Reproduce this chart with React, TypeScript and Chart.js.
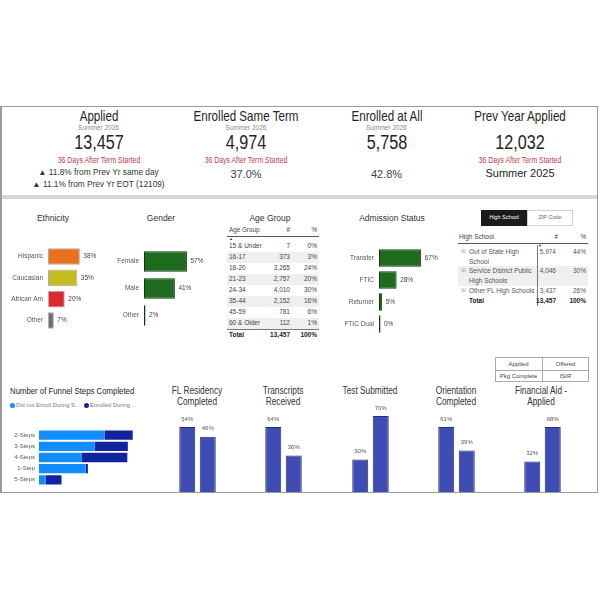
import React, { useEffect, useRef } from 'react';
import { Chart, registerables } from 'chart.js';
Chart.register(...registerables);

const SANS = "'Liberation Sans', Arial, sans-serif";
const NARROW = "'Liberation Sans', Arial, sans-serif";

// ---------- data ----------
const kpiTitles = ['Applied', 'Enrolled Same Term', 'Enrolled at All', 'Prev Year Applied'];
const kpiValues = ['13,457', '4,974', '5,758', '12,032'];
const kpiRates = ['', '37.0%', '42.8%', 'Summer 2025'];
const appliedChanges = ['▲ 11.8% from Prev Yr same day', '▲ 11.1% from Prev Yr EOT (12109)'];

const ethnicityLabels = ['Hispanic', 'Caucasian', 'African Am', 'Other'];
const ethnicityValues = [38, 35, 20, 7];
const ethnicityColors = ['#E8711C', '#C2BE1F', '#DB2A2F', '#6E6E6E'];

const genderLabels = ['Female', 'Male', 'Other'];
const genderValues = [57, 41, 2];

const admissionLabels = ['Transfer', 'FTIC', 'Returner', 'FTIC Dual'];
const admissionValues = [67, 28, 5, 0];

const ageGroups = ['15 & Under', '16-17', '18-20', '21-23', '24-34', '35-44', '45-59', '60 & Older'];
const ageCounts = [7, 373, 3265, 2757, 4010, 2152, 781, 112];
const agePcts = [0, 3, 24, 20, 30, 16, 6, 1];

const hsNames = [['Out of State High', 'School'], ['Service District Public', 'High Schools'], ['Other FL High Schools']];
const hsCounts = [5974, 4046, 3437];
const hsPcts = [44, 30, 26];

const funnelLabels = ['2-Steps', '3-Steps', '4-Steps', '1-Step', '5-Steps'];
const funnelNotEnrolled = [2560, 2180, 1660, 1820, 260];
const funnelEnrolled = [1100, 1290, 1790, 90, 620];

const stepCategories = ['Yes', 'No'];
const flResidency = [54, 46];
const transcripts = [64, 36];
const testSubmitted = [30, 70];
const orientation = [61, 39];
const financialAid = [32, 68];

// ---------- helpers ----------
const valueLabelPlugin = {
  id: 'valueLabels',
  afterDatasetsDraw(chart: any, _args: any, opts: any) {
    if (!opts || !opts.enabled) return;
    const ctx = chart.ctx;
    const meta = chart.getDatasetMeta(0);
    ctx.save();
    ctx.font = `${opts.size}px ${SANS}`;
    ctx.fillStyle = opts.color;
    meta.data.forEach((el: any, i: number) => {
      const txt = chart.data.datasets[0].data[i] + '%';
      if (opts.horizontal) {
        ctx.textAlign = 'left';
        ctx.textBaseline = 'middle';
        ctx.fillText(txt, el.x + opts.offset, el.y);
      } else {
        ctx.textAlign = 'center';
        ctx.textBaseline = 'bottom';
        ctx.fillText(txt, el.x, el.y - opts.offset);
      }
    });
    ctx.restore();
  },
};

function hbarConfig(labels: string[], values: number[], colors: any, border: string, max: number, axisWidth: number, barPct: number, minLen = 0) {
  return {
    type: 'bar',
    data: {
      labels,
      datasets: [{ data: values, backgroundColor: colors, borderColor: border, borderWidth: 1, borderSkipped: false, barPercentage: barPct, categoryPercentage: 1, minBarLength: minLen }],
    },
    options: {
      indexAxis: 'y',
      responsive: false,
      animation: false,
      layout: { padding: 0 },
      plugins: {
        legend: { display: false },
        tooltip: { enabled: false },
        valueLabels: { enabled: true, horizontal: true, offset: 3.5, size: 6.5, color: '#444' },
      },
      scales: {
        x: { display: false, min: 0, max },
        y: {
          grid: { display: false, drawTicks: false },
          border: { display: false },
          ticks: { font: { size: 6.5, family: SANS }, color: '#555', padding: 5 },
          afterFit: (s: any) => { s.width = axisWidth; },
        },
      },
    },
    plugins: [valueLabelPlugin],
  };
}

function vbarConfig(values: number[], padTop: number) {
  return {
    type: 'bar',
    data: {
      labels: stepCategories,
      datasets: [{ data: values, backgroundColor: '#3F4CB4', borderColor: '#26306f', borderWidth: 1, borderSkipped: 'bottom', barPercentage: 0.78, categoryPercentage: 1 }],
    },
    options: {
      responsive: false,
      animation: false,
      layout: { padding: { top: padTop, left: 0, right: 0, bottom: 0 } },
      plugins: {
        legend: { display: false },
        tooltip: { enabled: false },
        valueLabels: { enabled: true, horizontal: false, offset: 5, size: 6, color: '#555' },
      },
      scales: {
        x: { display: false },
        y: { display: false, min: 0, max: Math.max(...values) },
      },
    },
    plugins: [valueLabelPlugin],
  };
}

function funnelConfig() {
  return {
    type: 'bar',
    data: {
      labels: funnelLabels,
      datasets: [
        { label: 'Did not Enroll During Summer', data: funnelNotEnrolled, backgroundColor: '#118DFF', barPercentage: 0.83, categoryPercentage: 1 },
        { label: 'Enrolled During Summer', data: funnelEnrolled, backgroundColor: '#12239E', barPercentage: 0.83, categoryPercentage: 1 },
      ],
    },
    options: {
      indexAxis: 'y',
      responsive: false,
      animation: false,
      layout: { padding: 0 },
      plugins: { legend: { display: false }, tooltip: { enabled: false } },
      scales: {
        x: { display: false, stacked: true, min: 0, max: 5000 },
        y: {
          stacked: true,
          grid: { display: false, drawTicks: false },
          border: { display: false },
          ticks: { font: { size: 6, family: SANS }, color: '#555', padding: 4 },
          afterFit: (s: any) => { s.width = 36; },
        },
      },
    },
  };
}

function ChartCanvas({ x, y, w, h, make }: any) {
  const ref = useRef<HTMLCanvasElement>(null);
  useEffect(() => {
    const c = new Chart(ref.current as HTMLCanvasElement, make());
    return () => c.destroy();
  }, []);
  return <canvas ref={ref} width={w} height={h} style={{ position: 'absolute', left: x, top: y, width: w, height: h }} />;
}

function T({ x, y, children, size = 7, color = '#333', align = 'left', family = SANS, weight = 400, sx = 1 }: any) {
  const tx = align === 'center' ? '-50%' : align === 'right' ? '-100%' : '0';
  const origin = align === 'center' ? 'center center' : align === 'right' ? 'right center' : 'left center';
  return (
    <div style={{ position: 'absolute', left: x, top: y, transform: `translate(${tx},-50%) scaleX(${sx})`, transformOrigin: origin, fontSize: size, color, fontFamily: family, fontWeight: weight, whiteSpace: 'nowrap', lineHeight: 1 }}>
      {children}
    </div>
  );
}

function Box({ x, y, w, h, bg = 'transparent', border }: any) {
  return <div style={{ position: 'absolute', left: x, top: y, width: w, height: h, background: bg, border, boxSizing: 'border-box' }} />;
}

const fmt = (n: number) => n.toLocaleString('en-US');

export default function App() {
  const kpiX = [98.5, 246, 386.5, 520];
  const red = '#C8383F';
  const ageTotal = ageCounts.reduce((a, b) => a + b, 0);
  const hsTotal = hsCounts.reduce((a, b) => a + b, 0);
  const stepSets = [
    { vals: flResidency, x: 177, title: ['FL Residency', 'Completed'], cx: 197 },
    { vals: transcripts, x: 263, title: ['Transcripts', 'Received'], cx: 283 },
    { vals: testSubmitted, x: 350, title: ['Test Submitted'], cx: 370 },
    { vals: orientation, x: 436, title: ['Orientation', 'Completed'], cx: 456 },
    { vals: financialAid, x: 522, title: ['Financial Aid -', 'Applied'], cx: 541 },
  ];
  return (
    <div style={{ position: 'absolute', left: 0, top: 0, width: 600, height: 600, background: '#fff', overflow: 'hidden' }}>
      {/* KPI cards */}
      {kpiTitles.map((t, i) => (
        <T key={'kt' + i} x={kpiX[i]} y={116} size={14.5} family={NARROW} color="#252423" align="center" sx={0.8}>{t}</T>
      ))}
      {[0, 1, 2].map((i) => (
        <T key={'ks' + i} x={kpiX[i]} y={128} size={6.5} color="#8a8a8a" align="center">Summer 2026</T>
      ))}
      {kpiValues.map((v, i) => (
        <T key={'kv' + i} x={kpiX[i]} y={143} size={19.5} family={NARROW} color="#252423" align="center" sx={0.83}>{v}</T>
      ))}
      {[0, 1, 3].map((i) => (
        <T key={'kr' + i} x={kpiX[i]} y={159.5} size={8.5} family={NARROW} color={red} align="center" sx={0.81}>36 Days After Term Started</T>
      ))}
      {appliedChanges.map((c, i) => (
        <T key={'ac' + i} x={kpiX[0]} y={171.5 + i * 12} size={8.3} color="#333" align="center">{c}</T>
      ))}
      {[1, 2].map((i) => (
        <T key={'kp' + i} x={kpiX[i]} y={173.5} size={11} color="#444" align="center">{kpiRates[i]}</T>
      ))}
      <T x={kpiX[3]} y={173} size={11} color="#252423" align="center">{kpiRates[3]}</T>

      {/* separator band */}
      <Box x={1} y={195} w={597} h={4} bg="#d6d6d6" />

      {/* Ethnicity */}
      <T x={53} y={218} size={8.5} color="#333" align="center">Ethnicity</T>
      <ChartCanvas x={5} y={237} w={100} h={103} make={() => hbarConfig(ethnicityLabels, ethnicityValues, ethnicityColors, 'rgba(120,120,120,0.6)', 68, 43, 0.78)} />

      {/* Gender */}
      <T x={161} y={218} size={8.5} color="#333" align="center">Gender</T>
      <ChartCanvas x={105} y={239} w={100} h={99} make={() => hbarConfig(genderLabels, genderValues, '#1E6A1E', '#0f3a0f', 81, 39, 0.76)} />

      {/* Age Group table */}
      <T x={270} y={218} size={8.5} color="#333" align="center">Age Group</T>
      <T x={229} y={230} size={6.3} color="#444">Age Group</T>
      <T x={290} y={230} size={6.3} color="#444" align="right">#</T>
      <T x={317} y={230} size={6.3} color="#444" align="right">%</T>
      <Box x={227} y={236} w={92} h={1} bg="#555" />
      <T x={229} y={239} size={4} color="#333">▲</T>
      {ageGroups.map((g, i) => (
        <React.Fragment key={'ag' + i}>
          {i % 2 === 1 && <Box x={227} y={240.5 + i * 11} w={92} h={11} bg="#efefef" />}
          <T x={229} y={246 + i * 11} size={6.5} color="#444">{g}</T>
          <T x={290} y={246 + i * 11} size={6.5} color="#444" align="right">{fmt(ageCounts[i])}</T>
          <T x={317} y={246 + i * 11} size={6.5} color="#444" align="right">{agePcts[i]}%</T>
        </React.Fragment>
      ))}
      <Box x={227} y={329} w={92} h={1} bg="#777" />
      <T x={229} y={335} size={6.5} color="#222" weight={700}>Total</T>
      <T x={290} y={335} size={6.5} color="#222" weight={700} align="right">{fmt(ageTotal)}</T>
      <T x={317} y={335} size={6.5} color="#222" weight={700} align="right">100%</T>

      {/* Admission Status */}
      <T x={392} y={218} size={8.5} color="#333" align="center">Admission Status</T>
      <ChartCanvas x={330} y={238} w={112} h={106} make={() => hbarConfig(admissionLabels, admissionValues, ['#1E6A1E', '#1E6A1E', '#1E6A1E', '#9a9a9a'], '#0f3a0f', 100, 49, 0.79, 1.5)} />

      {/* High school / ZIP toggle */}
      <Box x={481} y={210} w={46} h={16} bg="#1b1b1b" />
      <T x={504} y={218} size={5.5} color="#fff" align="center">High School</T>
      <Box x={527} y={210} w={46} h={16} bg="#fff" border="1px solid #cfcfcf" />
      <T x={550} y={218} size={5.5} color="#666" align="center">ZIP Code</T>

      {/* High school table */}
      <T x={459} y={237} size={6.5} color="#444">High School</T>
      <T x={558} y={237} size={6.3} color="#444" align="right">#</T>
      <T x={586} y={237} size={6.3} color="#444" align="right">%</T>
      <Box x={458} y={243} w={130} h={1} bg="#555" />
      <T x={540} y={246} size={4} color="#333" align="center">▼</T>
      <Box x={458} y={265.5} w={130} h={20} bg="#efefef" />
      <Box x={537} y={245} w={1} h={61} bg="#777" />
      {hsNames.map((lines, i) => {
        const top = [252, 271, 291][i];
        return (
          <React.Fragment key={'hs' + i}>
            <T x={461} y={top} size={5.5} color="#aaa">⊞</T>
            {lines.map((l, j) => (
              <T key={j} x={469} y={top + j * 9.5} size={6.5} color="#555">{l}</T>
            ))}
            <T x={556} y={top} size={6.5} color="#555" align="right">{fmt(hsCounts[i])}</T>
            <T x={586} y={top} size={6.5} color="#555" align="right">{hsPcts[i]}%</T>
          </React.Fragment>
        );
      })}
      <T x={469} y={301} size={6.5} color="#222" weight={700}>Total</T>
      <T x={556} y={301} size={6.5} color="#222" weight={700} align="right">{fmt(hsTotal)}</T>
      <T x={586} y={301} size={6.5} color="#222" weight={700} align="right">100%</T>

      {/* Applied / Offered legend box */}
      <Box x={495} y={357} w={94} h={25} bg="#fff" border="1px solid #aaa" />
      <Box x={542} y={357} w={1} h={25} bg="#aaa" />
      <Box x={495} y={369.5} w={94} h={1} bg="#aaa" />
      <T x={518.5} y={363.5} size={6} color="#444" align="center">Applied</T>
      <T x={565.5} y={363.5} size={6} color="#444" align="center">Offered</T>
      <T x={518.5} y={376} size={6} color="#444" align="center">Pkg Complete</T>
      <T x={565.5} y={376} size={6} color="#444" align="center">ISIR</T>

      {/* Funnel steps */}
      <T x={10} y={391} size={9.5} family={NARROW} color="#252423" sx={0.82}>Number of Funnel Steps Completed</T>
      <div style={{ position: 'absolute', left: 10, top: 403, width: 5, height: 5, borderRadius: 3, background: '#118DFF' }} />
      <T x={16} y={405.5} size={5.8} color="#777">Did not Enroll During S...</T>
      <div style={{ position: 'absolute', left: 84, top: 403, width: 5, height: 5, borderRadius: 3, background: '#12239E' }} />
      <T x={90} y={405.5} size={5.8} color="#777">Enrolled During ...</T>
      <ChartCanvas x={3} y={422} w={164} h={71} make={funnelConfig} />

      {/* Step completion mini charts */}
      {stepSets.map((s, i) => {
        const oneLine = s.title.length === 1;
        const top = oneLine ? 402 : 413;
        return (
          <React.Fragment key={'st' + i}>
            {s.title.map((l, j) => (
              <T key={j} x={s.cx} y={391 + j * 10.5} size={10} family={NARROW} color="#333" align="center" sx={0.83}>{l}</T>
            ))}
            <ChartCanvas x={s.x} y={top} w={41} h={492 - top} make={() => vbarConfig(s.vals, 14)} />
          </React.Fragment>
        );
      })}

      {/* outer frame */}
      <div style={{ position: 'absolute', left: 0, top: 106, width: 598, height: 387, borderTop: '1px solid #9a9a9a', borderRight: '1px solid #9a9a9a', borderBottom: '1.5px solid #9a9a9a', borderLeft: '2px solid #9a9a9a', boxSizing: 'border-box' }} />
    </div>
  );
}
